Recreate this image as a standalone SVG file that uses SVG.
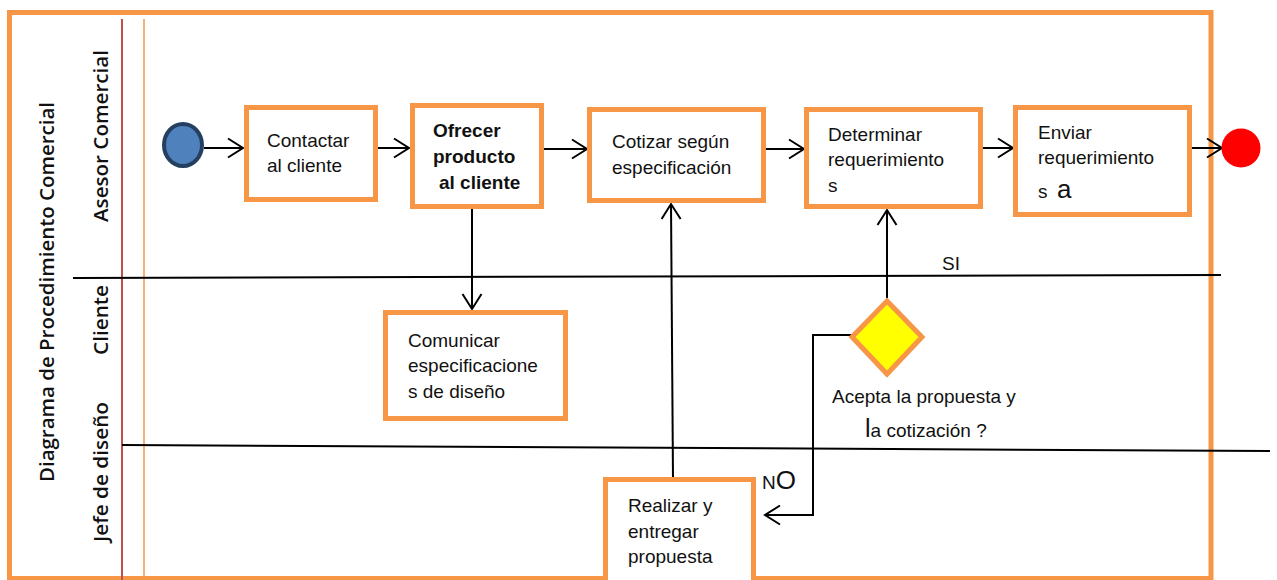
<svg xmlns="http://www.w3.org/2000/svg" width="1277" height="580" viewBox="0 0 1277 580">
<style>
.box{fill:#fff;stroke:#f79646;stroke-width:5}
.t{font-family:"Liberation Sans",Arial,sans-serif;font-size:19px;fill:#111}
.b{font-weight:bold}
.lane{font-family:"Open Sans","Liberation Sans",sans-serif;font-size:20px;font-weight:600;fill:#111;text-anchor:middle}
.c{fill:none;stroke:#000;stroke-width:2}
</style>
<defs>
<marker id="arr" markerUnits="userSpaceOnUse" markerWidth="20" markerHeight="24" viewBox="-17 -12 19 24" refX="0" refY="0" orient="auto">
<path d="M-15,-9.5 L0,0 L-15,9.5" fill="none" stroke="#000" stroke-width="2"/>
</marker>
</defs>
<rect width="1277" height="580" fill="#fff"/>
<g id="frame">
<rect x="9.5" y="12.5" width="1201.5" height="566" fill="none" stroke="#f79646" stroke-width="5"/>
<line x1="122" y1="19" x2="122" y2="580" stroke="#c0504d" stroke-width="2"/>
<line x1="144" y1="19" x2="144" y2="580" stroke="#f79646" stroke-width="1.5"/>
<line x1="73" y1="278" x2="1221" y2="275" stroke="#000" stroke-width="2"/>
<line x1="122" y1="445" x2="1270" y2="451" stroke="#000" stroke-width="2"/>
<text class="lane" transform="translate(54,292) rotate(-90)" textLength="380" lengthAdjust="spacingAndGlyphs">Diagrama de Procedimiento Comercial</text>
<text class="lane" transform="translate(108,136) rotate(-90)" textLength="172" lengthAdjust="spacingAndGlyphs">Asesor Comercial</text>
<text class="lane" transform="translate(108,320) rotate(-90)" textLength="70" lengthAdjust="spacingAndGlyphs">Cliente</text>
<text class="lane" transform="translate(108,472) rotate(-90)" textLength="140" lengthAdjust="spacingAndGlyphs">Jefe de diseño</text>
</g>
<g id="connectors">
<line class="c" x1="204" y1="148" x2="243" y2="148" marker-end="url(#arr)"/>
<line class="c" x1="378" y1="148" x2="409" y2="148" marker-end="url(#arr)"/>
<line class="c" x1="544" y1="149" x2="587" y2="149" marker-end="url(#arr)"/>
<line class="c" x1="766" y1="149" x2="804" y2="149" marker-end="url(#arr)"/>
<line class="c" x1="983" y1="148" x2="1013" y2="148" marker-end="url(#arr)"/>
<line class="c" x1="1192" y1="148" x2="1222" y2="148" marker-end="url(#arr)"/>
<line class="c" x1="472" y1="208" x2="472" y2="309" marker-end="url(#arr)"/>
<line class="c" x1="673" y1="478" x2="671" y2="204" marker-end="url(#arr)"/>
<line class="c" x1="887" y1="298" x2="887" y2="210" marker-end="url(#arr)"/>
<polyline class="c" points="862,335 813,335 813,515 765,515" marker-end="url(#arr)"/>
<text class="t" x="942" y="270" font-size="16">SI</text>
<text class="t" x="762" y="489" font-size="16">N<tspan font-size="26">O</tspan></text>
</g>
<g id="start"><ellipse cx="183" cy="145" rx="19" ry="21" fill="#4f81bd" stroke="#243f60" stroke-width="4"/></g>
<g id="end"><circle cx="1241" cy="148" r="19.5" fill="#ff0000"/></g>
<g id="contactar">
<rect class="box" x="246.5" y="107.5" width="129" height="92"/>
<text class="t" x="267" y="147">Contactar</text>
<text class="t" x="267" y="172">al cliente</text>
</g>
<g id="ofrecer">
<rect class="box" x="412.5" y="105.5" width="129" height="101"/>
<text class="t b" x="433" y="137">Ofrecer</text>
<text class="t b" x="433" y="163">producto</text>
<text class="t b" x="439" y="189">al cliente</text>
</g>
<g id="cotizar">
<rect class="box" x="589.5" y="109.5" width="174" height="91"/>
<text class="t" x="612" y="148">Cotizar según</text>
<text class="t" x="612" y="174">especificación</text>
</g>
<g id="determinar">
<rect class="box" x="806.5" y="109.5" width="174" height="97"/>
<text class="t" x="828" y="141">Determinar</text>
<text class="t" x="828" y="166">requerimiento</text>
<text class="t" x="828" y="192">s</text>
</g>
<g id="enviar">
<rect class="box" x="1015.5" y="107.5" width="174" height="107"/>
<text class="t" x="1038" y="139">Enviar</text>
<text class="t" x="1038" y="164">requerimiento</text>
<text class="t" x="1038" y="198" font-size="16">s<tspan x="1057" font-size="26">a</tspan></text>
</g>
<g id="comunicar">
<rect class="box" x="385.5" y="312.5" width="180" height="106"/>
<text class="t" x="408" y="347">Comunicar</text>
<text class="t" x="408" y="372">especificacione</text>
<text class="t" x="408" y="398">s de diseño</text>
</g>
<g id="decision">
<polygon points="887,301 922,337 887,374 852,337" fill="#ffff00" stroke="#f79646" stroke-width="5"/>
<text class="t" x="832" y="403">Acepta la propuesta y</text>
<text class="t" x="865" y="437"><tspan font-size="25">l</tspan>a cotización ?</text>
</g>
<g id="realizar">
<rect class="box" x="605.5" y="479.5" width="148" height="110"/>
<text class="t" x="628" y="512">Realizar y</text>
<text class="t" x="628" y="538">entregar</text>
<text class="t" x="628" y="563">propuesta</text>
</g>
</svg>
